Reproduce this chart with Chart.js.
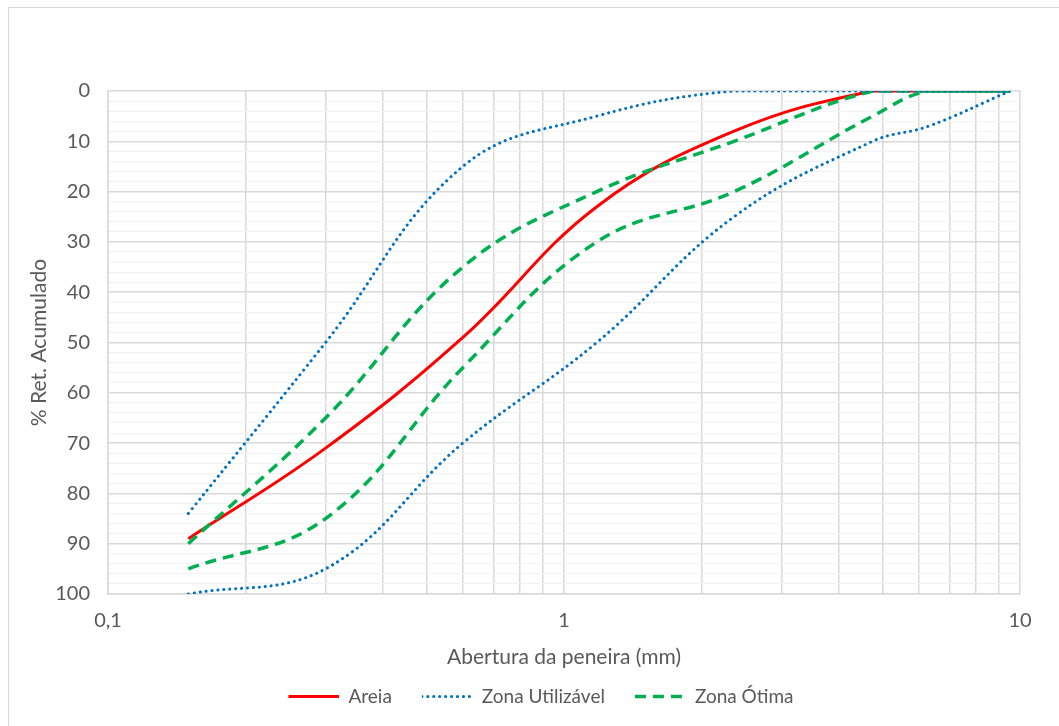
<!DOCTYPE html>
<html lang="pt">
<head>
<meta charset="UTF-8">
<title>Curva granulométrica</title>
<script src="https://cdn.jsdelivr.net/npm/chart.js"></script>
<style>
  html, body {
    margin: 0;
    padding: 0;
    background: #fff;
    overflow: hidden;
  }
  .frame {
    position: absolute;
    left: 8px;
    top: 7px;
    width: 1200px;
    height: 800px;
    border-top: 1px solid #d9d9d9;
    border-left: 1px solid #d9d9d9;
  }
  canvas {
    position: absolute;
    left: 0;
    top: 0;
  }
</style>
</head>
<body>

<div class="frame"></div>
<canvas id="curva" width="1059" height="726"></canvas>

<script>
// aberturas das peneiras (mm)
const peneiras = [0.15, 0.3, 0.6, 1.18, 2.36, 4.75, 6.3, 9.5];

const areia = [89, 71, 49, 23, 8, 0, 0, 0];
const utilizavelInf = [84, 50, 15, 5, 0, 0, 0, 0];
const utilizavelSup = [100, 95, 70, 50, 25, 10, 7, 0];
const otimaInf = [90, 65, 35, 20, 10, 0, 0, 0];
const otimaSup = [95, 85, 55, 30, 20, 5, 0, 0];

const xTicks = [0.1, 0.2, 0.3, 0.4, 0.5, 0.6, 0.7, 0.8, 0.9,
                1, 2, 3, 4, 5, 6, 7, 8, 9, 10];
const xLabels = { 0.1: '0,1', 1: '1', 10: '10' };

const toPoints = vals => vals.map((v, i) => ({ x: peneiras[i], y: v }));

const fontFamily = 'Lato, "Open Sans", sans-serif';
const textColor = '#595959';

// traços escolhidos para a amostra da legenda (retângulo de altura 0) sair limpa
const dotDash = [0.1, 5.84];
const greenDash = [11, 7];

function serie(label, vals, color, width, dash, cap, order, hidden) {
  return {
    label: label,
    data: toPoints(vals),
    borderColor: color,
    backgroundColor: color,
    borderWidth: width,
    borderDash: dash,
    borderCapStyle: cap,
    pointRadius: 0,
    tension: 0.4,
    fill: false,
    order: order,
    hideInLegend: hidden
  };
}

// centraliza a legenda na largura total, como no Excel
const shiftLegend = {
  id: 'shiftLegend',
  afterLayout(chart) {
    chart.legend.left += 22;
    chart.legend.right += 22;
  }
};

const ctx = document.getElementById('curva').getContext('2d');

new Chart(ctx, {
  type: 'line',
  data: {
    datasets: [
      serie('Areia', areia, '#ff0000', 3, [], 'butt', 5, false),
      serie('Zona Utilizável', utilizavelInf, '#0070c0', 3, dotDash, 'round', 1, false),
      serie('Zona Utilizável', utilizavelSup, '#0070c0', 3, dotDash, 'round', 2, true),
      serie('Zona Ótima', otimaInf, '#00b050', 3.5, greenDash, 'butt', 3, false),
      serie('Zona Ótima', otimaSup, '#00b050', 3.5, greenDash, 'butt', 4, true)
    ]
  },
  plugins: [shiftLegend],
  options: {
    responsive: false,
    animation: false,
    layout: {
      padding: { left: 18, right: 39, top: 91, bottom: 10 }
    },
    plugins: {
      tooltip: { enabled: false },
      legend: {
        position: 'bottom',
        labels: {
          font: { family: fontFamily, size: 19 },
          color: textColor,
          boxWidth: 50.5,
          boxHeight: 0,
          padding: 30,
          filter: (item, data) => !data.datasets[item.datasetIndex].hideInLegend,
          sort: (a, b) => a.datasetIndex - b.datasetIndex
        }
      }
    },
    scales: {
      x: {
        type: 'logarithmic',
        min: 0.1,
        max: 10,
        afterBuildTicks: scale => {
          scale.ticks = xTicks.map(v => ({ value: v }));
        },
        afterFit: scale => { scale.height = 63; },
        ticks: {
          autoSkip: false,
          maxRotation: 0,
          padding: 15,
          color: textColor,
          font: { family: fontFamily, size: 20 },
          callback: v => xLabels[v] || ''
        },
        grid: { color: '#d9d9d9', lineWidth: 1.5, drawTicks: false },
        border: { color: '#d9d9d9', width: 1.5 },
        title: {
          display: true,
          text: 'Abertura da peneira (mm)',
          color: textColor,
          font: { family: fontFamily, size: 21 },
          padding: { top: 0, bottom: -13 }
        }
      },
      y: {
        reverse: true,
        min: 0,
        max: 100,
        afterBuildTicks: scale => {
          const t = [];
          for (let v = 0; v <= 100; v += 2) t.push({ value: v });
          scale.ticks = t;
        },
        afterFit: scale => { scale.width = 90; },
        ticks: {
          autoSkip: false,
          padding: 18,
          color: textColor,
          font: { family: fontFamily, size: 20 },
          callback: v => (v % 10 === 0 ? String(v) : '')
        },
        grid: {
          drawTicks: false,
          lineWidth: c => (c.tick && c.tick.value % 10 === 0 ? 1.5 : 1),
          color: c => (c.tick && c.tick.value % 10 === 0 ? '#d9d9d9' : '#f2f2f2')
        },
        border: { color: '#d9d9d9', width: 1.5 },
        title: {
          display: true,
          text: '% Ret. Acumulado',
          color: textColor,
          font: { family: fontFamily, size: 21 },
          padding: { top: 9, bottom: 0 }
        }
      }
    }
  }
});
</script>

</body>
</html>
